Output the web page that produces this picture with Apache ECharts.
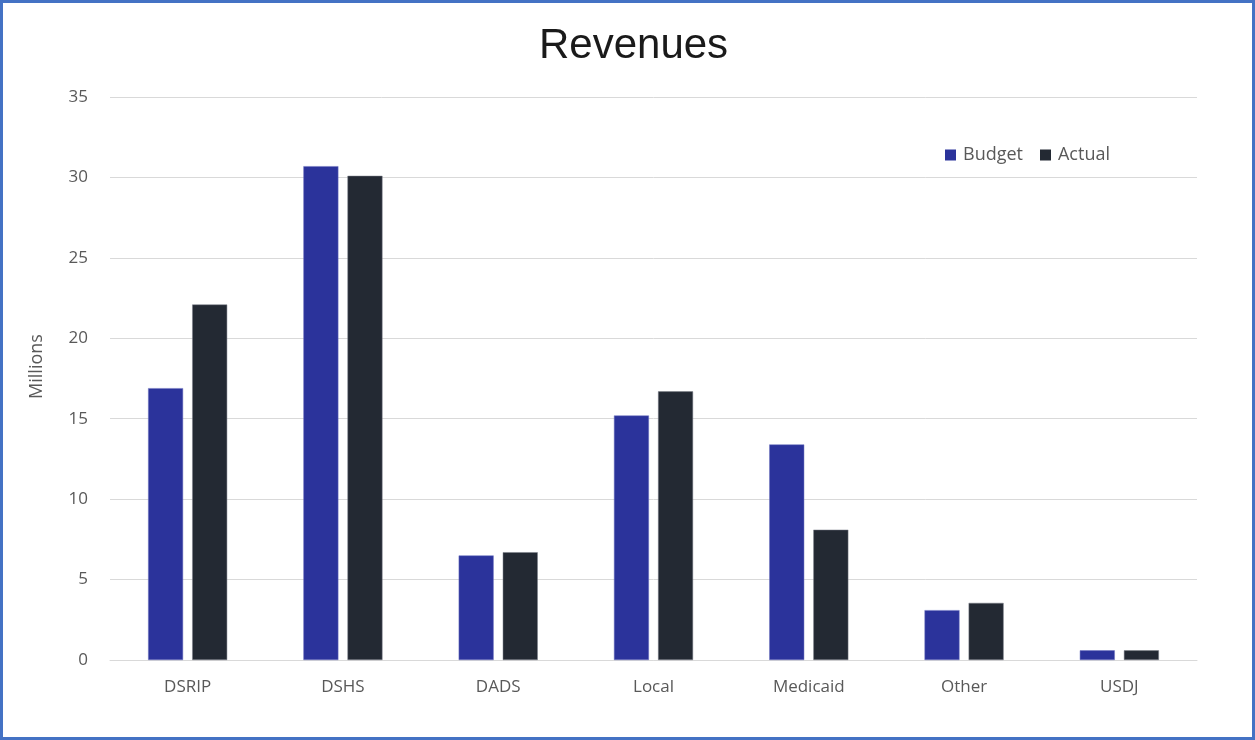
<!DOCTYPE html>
<html>
<head>
<meta charset="utf-8">
<script src="https://cdn.jsdelivr.net/npm/echarts@6/dist/echarts.min.js"></script>
<style>
html,body{margin:0;padding:0;background:#fff;}
#chart{position:absolute;left:0;top:0;width:1255px;height:740px;}
#frame{position:absolute;left:0;top:0;width:1255px;height:740px;box-sizing:border-box;border:3px solid #4472C4;pointer-events:none;}
</style>
</head>
<body>
<div id="chart"></div>
<div id="frame"></div>
<script>
const categories = ['DSRIP', 'DSHS', 'DADS', 'Local', 'Medicaid', 'Other', 'USDJ'];
const budget = [16.9, 30.7, 6.5, 15.2, 13.4, 3.1, 0.6];
const actual = [22.1, 30.1, 6.7, 16.7, 8.1, 3.55, 0.6];
const yTicks = { min: 0, max: 35, interval: 5 };

const chart = echarts.init(document.getElementById('chart'));
const labelFont = '"Open Sans", "Noto Sans", sans-serif';
chart.setOption({
  animation: false,
  title: {
    text: 'Revenues',
    left: 534,
    top: 20,
    textStyle: { fontFamily: '"Liberation Sans", Arial, sans-serif', fontSize: 42, fontWeight: 'normal', color: '#1a1a1a' }
  },
  legend: {
    data: ['Budget', 'Actual'],
    left: 940,
    top: 141,
    itemWidth: 11,
    itemHeight: 11,
    itemGap: 17,
    icon: 'rect',
    itemStyle: { borderWidth: 0 },
    textStyle: { fontFamily: labelFont, fontSize: 18, color: '#595959', padding: [0, 0, 0, 2] }
  },
  grid: { left: 110, right: 58, top: 97, bottom: 80 },
  xAxis: {
    type: 'category',
    data: categories,
    axisLine: { lineStyle: { color: '#d9d9d9', width: 1 } },
    axisTick: { show: false },
    axisLabel: { fontFamily: labelFont, fontSize: 17, color: '#595959', margin: 19 }
  },
  yAxis: {
    type: 'value',
    min: yTicks.min,
    max: yTicks.max,
    interval: yTicks.interval,
    name: 'Millions',
    nameLocation: 'middle',
    nameGap: 64,
    nameTextStyle: { fontFamily: labelFont, fontSize: 18, color: '#595959', padding: [0, 0, 0, 24] },
    axisLine: { show: false },
    axisTick: { show: false },
    splitLine: { lineStyle: { color: '#d9d9d9', width: 1 } },
    axisLabel: { fontFamily: labelFont, fontSize: 17, color: '#595959', margin: 22 }
  },
  series: [
    {
      name: 'Budget', type: 'bar', data: budget,
      barWidth: 35, barGap: '26%',
      itemStyle: { color: '#2B339B', borderColor: '#6f75c0', borderWidth: 0.5 }
    },
    {
      name: 'Actual', type: 'bar', data: actual,
      barWidth: 35,
      itemStyle: { color: '#232933', borderColor: '#7a7f88', borderWidth: 0.5 }
    }
  ]
});
</script>
</body>
</html>
